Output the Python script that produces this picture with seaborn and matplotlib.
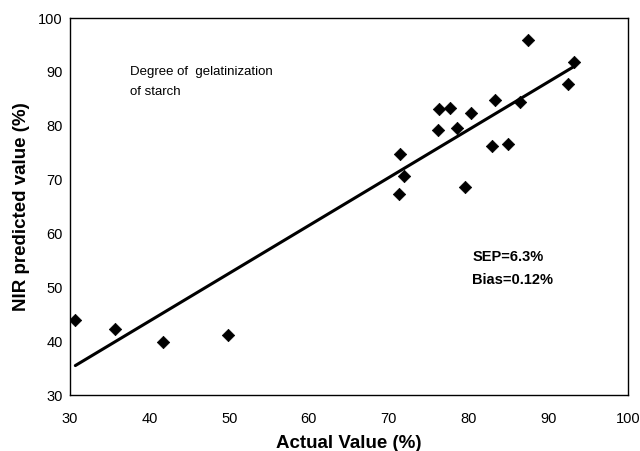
# NIR prediction of degree of starch gelatinization: predicted vs actual

import seaborn as sns
import matplotlib.pyplot as plt
import pandas as pd

# Data
actual_value = [30.7, 35.7, 41.7, 49.9, 71.3, 71.4, 71.9, 76.2, 76.3, 77.7,
                78.6, 79.6, 80.3, 83.0, 83.4, 85.0, 86.5, 87.5, 92.5, 93.3]
predicted_value = [44.0, 42.3, 39.9, 41.1, 67.3, 74.7, 70.7, 79.2, 83.1, 83.3,
                   79.5, 68.7, 82.4, 76.3, 84.8, 76.6, 84.5, 95.9, 87.7, 91.9]

df = pd.DataFrame({'actual': actual_value, 'predicted': predicted_value})

sns.set_style('white')
plt.rcParams['font.family'] = ['Liberation Sans', 'DejaVu Sans']
plt.rcParams['text.color'] = 'black'
plt.rcParams['axes.labelcolor'] = 'black'
plt.rcParams['xtick.color'] = 'black'
plt.rcParams['ytick.color'] = 'black'

fig = plt.figure(figsize=(6.4, 4.51), dpi=100)
ax = fig.add_axes([0.109, 0.124, 0.872, 0.836])

sns.regplot(x='actual', y='predicted', data=df, ci=None, ax=ax, marker='D',
            scatter_kws={'s': 40, 'color': 'black', 'alpha': 1, 'linewidths': 0.5},
            line_kws={'color': 'black', 'linewidth': 2.2})

ax.set_xlim(30, 100)
ax.set_ylim(30, 100)
ax.set_xticks(range(30, 101, 10))
ax.set_yticks(range(30, 101, 10))
ax.tick_params(direction='in', length=4, labelsize=10.5, width=0.8)
ax.tick_params(axis='x', pad=12)
ax.tick_params(axis='y', pad=5)
for s in ax.spines.values():
    s.set_linewidth(1.0)
    s.set_color('black')

ax.set_xlabel('Actual Value (%)', fontsize=13.5, fontweight='bold', labelpad=7)
ax.set_ylabel('NIR predicted value (%)', fontsize=13.5, fontweight='bold', labelpad=6)

ax.text(37.5, 88.05, 'Degree of  gelatinization\nof starch', fontsize=9.5,
        linespacing=1.9, va='center')
ax.text(80.5, 55.6, 'SEP=6.3%', fontsize=10.5, fontweight='bold', va='center')
ax.text(80.5, 51.4, 'Bias=0.12%', fontsize=10.5, fontweight='bold', va='center')

plt.savefig('out.png', dpi=100)
